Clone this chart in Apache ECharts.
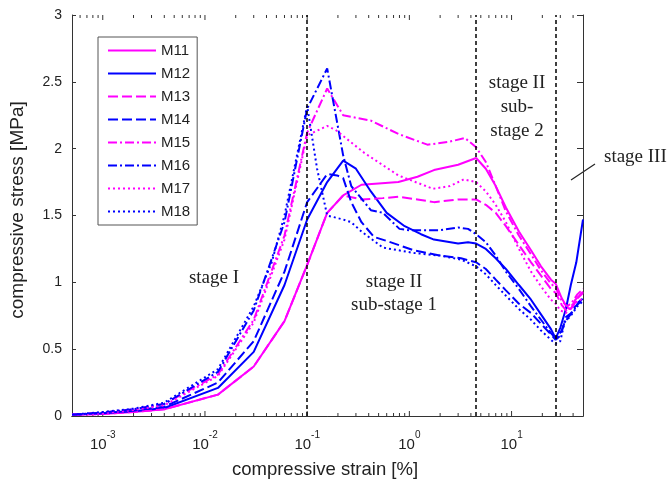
<!DOCTYPE html>
<html>
<head>
<meta charset="utf-8">
<script src="https://cdn.jsdelivr.net/npm/echarts@6/dist/echarts.min.js"></script>
<style>
  html, body { margin: 0; padding: 0; background: #fff; }
  #chart { width: 668px; height: 483px; }
</style>
</head>
<body>
<div id="chart"></div>
<script>
// Compressive stress [MPa] versus compressive strain [%] for specimens M11–M18.
const m11 = [[5e-4,0.01],[0.001,0.015],[0.002,0.03],[0.004,0.05],[0.0134,0.16],[0.03,0.37],[0.06,0.71],[0.1,1.13],[0.157,1.52],[0.225,1.65],[0.34,1.73],[0.5,1.74],[0.78,1.75],[1.2,1.79],[1.74,1.84],[3,1.88],[4.5,1.93],[5.6,1.85],[7,1.72],[8.8,1.56],[11.8,1.38],[15.5,1.24],[19.4,1.12],[24.3,1.02],[27,0.99],[31,0.88],[35,0.81],[38,0.8],[42,0.87],[46,0.9],[50,0.93]];
const m12 = [[5e-4,0.01],[0.001,0.02],[0.002,0.035],[0.004,0.06],[0.0134,0.21],[0.03,0.48],[0.06,0.98],[0.1,1.47],[0.157,1.75],[0.225,1.91],[0.3,1.85],[0.42,1.68],[0.6,1.52],[0.9,1.42],[1.3,1.36],[1.74,1.32],[3,1.29],[3.75,1.3],[4.5,1.29],[5.6,1.25],[7,1.18],[8.8,1.1],[11.8,0.98],[15.5,0.87],[19.4,0.76],[24.3,0.65],[27,0.58],[30,0.66],[34,0.8],[38,0.98],[43,1.15],[50,1.47]];
const m13 = [[5e-4,0.01],[0.001,0.015],[0.002,0.03],[0.004,0.05],[0.0134,0.16],[0.03,0.37],[0.06,0.71],[0.1,1.13],[0.157,1.52],[0.225,1.65],[0.34,1.62],[0.55,1.63],[0.78,1.64],[1.2,1.62],[1.74,1.6],[3,1.62],[4.5,1.62],[5.6,1.58],[7,1.52],[8.8,1.42],[11.8,1.28],[15.5,1.15],[19.4,1.05],[24.3,0.95],[27,0.92],[31,0.83],[35,0.78],[40,0.82],[44,0.88],[50,0.92]];
const m14 = [[5e-4,0.01],[0.001,0.02],[0.002,0.04],[0.004,0.07],[0.0134,0.25],[0.03,0.56],[0.06,1.08],[0.1,1.6],[0.157,1.81],[0.196,1.8],[0.225,1.78],[0.27,1.6],[0.34,1.45],[0.45,1.34],[0.6,1.31],[1.1,1.24],[2,1.2],[3.2,1.18],[4.5,1.15],[5.6,1.1],[7,1.02],[8.8,0.94],[11.8,0.84],[15.5,0.77],[19.4,0.69],[24.3,0.61],[27,0.57],[30,0.6],[33,0.7],[37,0.75],[42,0.82],[50,0.87]];
const m15 = [[5e-4,0.01],[0.001,0.025],[0.002,0.05],[0.004,0.09],[0.0134,0.31],[0.03,0.72],[0.06,1.35],[0.1,2.12],[0.157,2.45],[0.225,2.25],[0.42,2.21],[0.78,2.11],[1.5,2.03],[2.4,2.05],[3.5,2.08],[4.5,2.01],[5.6,1.9],[7,1.72],[8.8,1.53],[11.8,1.35],[15.5,1.21],[19.4,1.09],[24.3,0.99],[27,0.96],[31,0.86],[35,0.82],[39,0.85],[44,0.91],[50,0.95]];
const m16 = [[5e-4,0.01],[0.001,0.025],[0.002,0.05],[0.004,0.09],[0.0134,0.33],[0.03,0.79],[0.06,1.45],[0.1,2.3],[0.157,2.6],[0.225,1.95],[0.27,1.72],[0.42,1.54],[0.55,1.52],[0.8,1.4],[1,1.39],[2,1.39],[3,1.41],[3.75,1.4],[4.5,1.36],[5.6,1.3],[7,1.2],[8.8,1.08],[11.8,0.95],[15.5,0.82],[19.4,0.72],[24.3,0.62],[27,0.58],[31,0.64],[34,0.74],[40,0.78],[45,0.85],[50,0.88]];
const m17 = [[5e-4,0.01],[0.001,0.02],[0.002,0.045],[0.004,0.08],[0.0134,0.3],[0.03,0.7],[0.06,1.32],[0.1,2.1],[0.157,2.17],[0.19,2.14],[0.36,1.97],[0.78,1.8],[1.7,1.7],[2.5,1.72],[3.4,1.77],[4.5,1.75],[5.6,1.68],[7,1.58],[8.8,1.45],[11.8,1.25],[15.5,1.08],[19.4,0.97],[24.3,0.87],[27,0.84],[30,0.79],[34,0.77],[40,0.84],[50,0.88]];
const m18 = [[5e-4,0.01],[0.001,0.03],[0.002,0.055],[0.004,0.1],[0.0134,0.35],[0.03,0.82],[0.045,1.15],[0.06,1.5],[0.1,2.32],[0.125,1.85],[0.157,1.5],[0.225,1.47],[0.27,1.45],[0.34,1.38],[0.55,1.26],[1.1,1.22],[2,1.2],[3.2,1.17],[4.5,1.12],[5.6,1.06],[7,0.98],[8.8,0.9],[11.8,0.8],[15.5,0.72],[19.4,0.64],[24.3,0.57],[27,0.54],[30,0.56],[33,0.7],[38,0.75],[44,0.82],[50,0.86]];

// Strain values separating the deformation stages
const stageBounds = [0.1, 4.5, 27];

// Axis ranges
const strainMin = 5e-4, strainMax = 50;
const stressMin = 0, stressMax = 3, stressStep = 0.5;

const MAGENTA = '#ff00ff';
const BLUE = '#0000ff';
const DASH = [10, 4];
const DASHDOT = [9, 3, 2, 3];
const DOT = [2, 3];

const seriesDefs = [
  { name: 'M11', data: m11, color: MAGENTA, type: 'solid' },
  { name: 'M12', data: m12, color: BLUE, type: 'solid' },
  { name: 'M13', data: m13, color: MAGENTA, type: DASH },
  { name: 'M14', data: m14, color: BLUE, type: DASH },
  { name: 'M15', data: m15, color: MAGENTA, type: DASHDOT },
  { name: 'M16', data: m16, color: BLUE, type: DASHDOT },
  { name: 'M17', data: m17, color: MAGENTA, type: DOT },
  { name: 'M18', data: m18, color: BLUE, type: DOT }
];

// Decade and in-between tick positions of the log strain axis
const logTicks = [];
for (let e = -4; e <= 1; e++) {
  for (let d = 1; d <= 9; d++) {
    const v = d * Math.pow(10, e);
    if (v > strainMin * 1.0001 && v < strainMax * 0.9999) logTicks.push([v, d === 1 ? 1 : 0]);
  }
}

const SANS = '"Liberation Sans", Arial, sans-serif';
const SERIF = '"Liberation Serif", "Times New Roman", serif';
const AXIS_COLOR = '#333';

const chart = echarts.init(document.getElementById('chart'), null, { renderer: 'canvas' });

const lineSeries = seriesDefs.map(s => ({
  name: s.name,
  type: 'line',
  data: s.data,
  symbol: 'none',
  showSymbol: false,
  smooth: false,
  z: 3,
  color: s.color,
  lineStyle: { color: s.color, width: 2, type: s.type },
  itemStyle: { color: s.color }
}));

// Dashed stage boundaries
lineSeries[0].markLine = {
  silent: true,
  symbol: 'none',
  label: { show: false },
  lineStyle: { color: '#000', width: 1.5, type: [4, 3] },
  data: stageBounds.map(v => ({ xAxis: v }))
};

const tickSeries = {
  type: 'custom',
  silent: true,
  z: 2,
  xAxisIndex: 0,
  yAxisIndex: 0,
  data: logTicks,
  clip: false,
  renderItem: function (params, api) {
    const v = api.value(0);
    const len = api.value(1) ? 5 : 3;
    const pb = api.coord([v, stressMin]);
    const pt = api.coord([v, stressMax]);
    const st = { stroke: AXIS_COLOR, lineWidth: 1 };
    return {
      type: 'group',
      children: [
        { type: 'line', shape: { x1: pb[0], y1: pb[1], x2: pb[0], y2: pb[1] - len }, style: st },
        { type: 'line', shape: { x1: pt[0], y1: pt[1], x2: pt[0], y2: pt[1] + len }, style: st }
      ]
    };
  }
};

function decadeLabel(value) {
  const e = Math.round(Math.log10(value));
  if (Math.abs(value / Math.pow(10, e) - 1) > 1e-6) return '';
  return '{b|10}{s|' + e + '}';
}

chart.setOption({
  animation: false,
  backgroundColor: '#fff',
  grid: { left: 72, top: 15, right: 85, bottom: 67, containLabel: false },
  legend: {
    orient: 'vertical',
    left: 98,
    top: 37,
    itemWidth: 48,
    itemHeight: 14,
    itemGap: 8,
    padding: [6, 7, 6, 9],
    borderColor: '#555',
    borderWidth: 1,
    backgroundColor: '#fff',
    itemStyle: { opacity: 0 },
    textStyle: { fontFamily: SANS, fontSize: 15, color: '#222' },
    data: seriesDefs.map(s => s.name)
  },
  xAxis: [
    {
      type: 'log',
      logBase: 10,
      min: strainMin,
      max: strainMax,
      position: 'bottom',
      axisLine: { show: true, lineStyle: { color: AXIS_COLOR, width: 1 } },
      axisTick: { show: false },
      splitLine: { show: false },
      axisLabel: {
        margin: 14,
        showMinLabel: false,
        showMaxLabel: false,
        formatter: decadeLabel,
        rich: {
          b: { fontFamily: SANS, fontSize: 15, color: '#222', verticalAlign: 'bottom', lineHeight: 22 },
          s: { fontFamily: SANS, fontSize: 10, color: '#222', verticalAlign: 'top', lineHeight: 22 }
        }
      }
    },
    {
      type: 'log',
      logBase: 10,
      min: strainMin,
      max: strainMax,
      position: 'top',
      axisLine: { show: true, lineStyle: { color: AXIS_COLOR, width: 1 } },
      axisTick: { show: false },
      axisLabel: { show: false },
      splitLine: { show: false }
    }
  ],
  yAxis: [
    {
      type: 'value',
      min: stressMin,
      max: stressMax,
      interval: stressStep,
      position: 'left',
      axisLine: { show: true, lineStyle: { color: AXIS_COLOR, width: 1 } },
      axisTick: { show: true, inside: true, length: 4, lineStyle: { color: AXIS_COLOR } },
      splitLine: { show: false },
      axisLabel: { fontFamily: SANS, fontSize: 14, color: '#222', margin: 10 }
    },
    {
      type: 'value',
      min: stressMin,
      max: stressMax,
      interval: stressStep,
      position: 'right',
      axisLine: { show: true, lineStyle: { color: AXIS_COLOR, width: 1 } },
      axisTick: { show: true, inside: true, length: 6, lineStyle: { color: AXIS_COLOR } },
      axisLabel: { show: false },
      splitLine: { show: false }
    }
  ],
  series: [tickSeries].concat(lineSeries),
  graphic: [
    { type: 'text', x: 325, y: 470, style: { text: 'compressive strain [%]', font: '18.5px ' + SANS, fill: '#222', align: 'center', verticalAlign: 'middle' } },
    { type: 'text', x: 18, y: 210, rotation: Math.PI / 2, style: { text: 'compressive stress [MPa]', font: '19px ' + SANS, fill: '#222', align: 'center', verticalAlign: 'middle' } },
    { type: 'text', x: 214, y: 278, style: { text: 'stage I', font: '19px ' + SERIF, fill: '#222', align: 'center', verticalAlign: 'middle' } },
    { type: 'text', x: 394, y: 294, style: { text: 'stage II\nsub-stage 1', font: '19px ' + SERIF, fill: '#222', align: 'center', verticalAlign: 'middle', lineHeight: 23 } },
    { type: 'text', x: 517, y: 107, style: { text: 'stage II\nsub-\nstage 2', font: '19px ' + SERIF, fill: '#222', align: 'center', verticalAlign: 'middle', lineHeight: 24 } },
    { type: 'text', x: 604, y: 157, style: { text: 'stage III', font: '19px ' + SERIF, fill: '#222', align: 'left', verticalAlign: 'middle' } },
    { type: 'line', shape: { x1: 571, y1: 180, x2: 595, y2: 164 }, style: { stroke: '#222', lineWidth: 1.2 } }
  ]
});
</script>
</body>
</html>
